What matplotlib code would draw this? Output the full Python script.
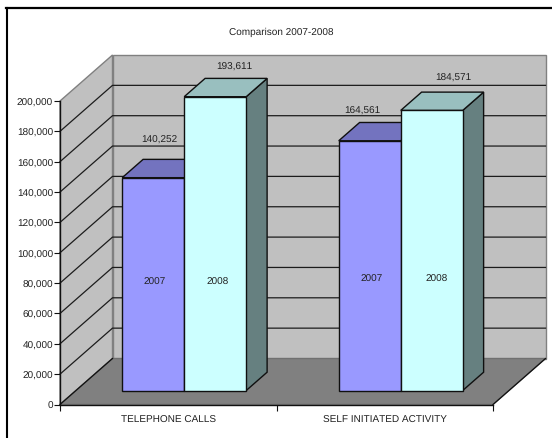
import matplotlib
matplotlib.use("Agg")
import matplotlib.pyplot as plt
from matplotlib.patches import Polygon
from matplotlib.lines import Line2D
import numpy as np

# chart data
categories = ["TELEPHONE CALLS", "SELF INITIATED ACTIVITY"]
series_names = ["2007", "2008"]
values_2007 = [140252, 164561]
values_2008 = [193611, 184571]
y_ticks = list(range(0, 200001, 20000))

W, H = 552, 439
plt.rcParams["font.family"] = ["Liberation Sans", "DejaVu Sans"]
plt.rcParams["text.hinting"] = "no_hinting"
plt.rcParams["text.hinting_factor"] = 1
FS = 6.9

fig = plt.figure(figsize=(W / 100, H / 100), dpi=100)
# front plane of the 3D box, in pixels
left, right, top, bottom = 60, 493, 102, 405.5
ax = fig.add_axes([left / W, 1 - bottom / H, (right - left) / W, (bottom - top) / H])
ax.set_xlim(0, 2)
ax.set_ylim(0, 200000)
ax.patch.set_visible(False)

# depth of the box, expressed in data units
DX = 52.5 / ((right - left) / 2)
DY = 46 / (bottom - top) * 200000


def proj(x, v, d):
    return (x + d * DX, v + d * DY)


def poly(points, fc, ec="#101010", lw=1.0, z=2):
    ax.add_patch(Polygon([proj(*p) for p in points], closed=True, facecolor=fc,
                         edgecolor=ec, linewidth=lw, zorder=z, clip_on=False,
                         joinstyle="miter"))


def px(x, y):
    return x / W, 1 - y / H


# back wall, side wall, floor
poly([(0, 0, 1), (2, 0, 1), (2, 200000, 1), (0, 200000, 1)], "#C0C0C0", "#808080", 1.0, 1)
poly([(0, 0, 0), (0, 0, 1), (0, 200000, 1), (0, 200000, 0)], "#C0C0C0", "#808080", 1.0, 1)
poly([(0, 0, 0), (2, 0, 0), (2, 0, 1), (0, 0, 1)], "#808080", "#707070", 1.0, 1)

# gridlines on both walls
for v in y_ticks[1:-1]:
    xs, ys = zip(proj(0, v, 0), proj(0, v, 1), proj(2, v, 1))
    ax.plot(xs, ys, color="#1c1c1c", lw=0.9, zorder=1.5, clip_on=False)

# dark edges of the floor
for a, b in [(proj(0, 0, 0), proj(0, 0, 1)), (proj(2, 0, 0), proj(2, 0, 1))]:
    ax.plot([a[0], b[0]], [a[1], b[1]], color="#101010", lw=0.9, zorder=1.6, clip_on=False)

# bars
bar_w = 62 / ((right - left) / 2)
d0, d1 = 14 / 46, 32.3 / 46
styles = [("#9999FF", "#7373BF", "#7373BF"), ("#CCFFFF", "#99BFBF", "#668080")]
for i, cat in enumerate(categories):
    for j, vals in enumerate([values_2007, values_2008]):
        x0 = i + 0.5 + (j - 1) * bar_w
        x1 = x0 + bar_w
        v = vals[i]
        front, upper, side = styles[j]
        poly([(x1, 0, d0), (x1, 0, d1), (x1, v, d1), (x1, v, d0)], side, z=3 + j)
        poly([(x0, v, d0), (x1, v, d0), (x1, v, d1), (x0, v, d1)], upper, z=3 + j)
        poly([(x0, 0, d0), (x1, 0, d0), (x1, v, d0), (x0, v, d0)], front, z=3 + j)

# axes
for s in ["top", "right"]:
    ax.spines[s].set_visible(False)
for s in ["left", "bottom"]:
    ax.spines[s].set_color("#101010")
    ax.spines[s].set_linewidth(1.0)
    ax.spines[s].set_zorder(2.5)
ax.set_yticks(y_ticks)
ax.set_yticklabels([f"{v:,}" for v in y_ticks], fontsize=FS, color="#222222")
ax.tick_params(axis="y", length=4, width=0.8, pad=1, color="#101010")
ax.set_xticks([0, 1, 2])
ax.set_xticklabels([])
ax.tick_params(axis="x", length=4, width=0.8, color="#101010")
ax.set_xticks([0.5, 1.5], minor=True)
ax.set_xticklabels(categories, minor=True, fontsize=FS, color="#222222")
ax.tick_params(axis="x", which="minor", length=0, pad=7.5)

fig.text(*px(281.5, 32.5), "Comparison 2007-2008", fontsize=FS, ha="center", va="center", color="#222222")

# value labels above the bars and year labels inside them
label_spots = [[(159.5, 140), (234, 67)], [(362, 111), (453, 78.5)]]
year_spots = [[(155, 282), (218, 282)], [(372, 279), (437, 279)]]
for i in range(len(categories)):
    for j, vals in enumerate([values_2007, values_2008]):
        fig.text(*px(*label_spots[i][j]), f"{vals[i]:,}", fontsize=FS, ha="center", va="center",
                 color="#222222", zorder=10)
        fig.text(*px(*year_spots[i][j]), series_names[j], fontsize=FS, ha="center", va="center",
                 color="#222222", zorder=10)

# heavy frame around the picture
fig.add_artist(Line2D([6.5 / W, 6.5 / W], [0, 1 - 9 / H], color="black", lw=1.5, transform=fig.transFigure))
fig.add_artist(Line2D([6.0 / W, 1], [1 - 9.2 / H, 1 - 9.2 / H], color="black", lw=1.6, transform=fig.transFigure))

fig.savefig("out.png", dpi=100)
plt.close(fig)
